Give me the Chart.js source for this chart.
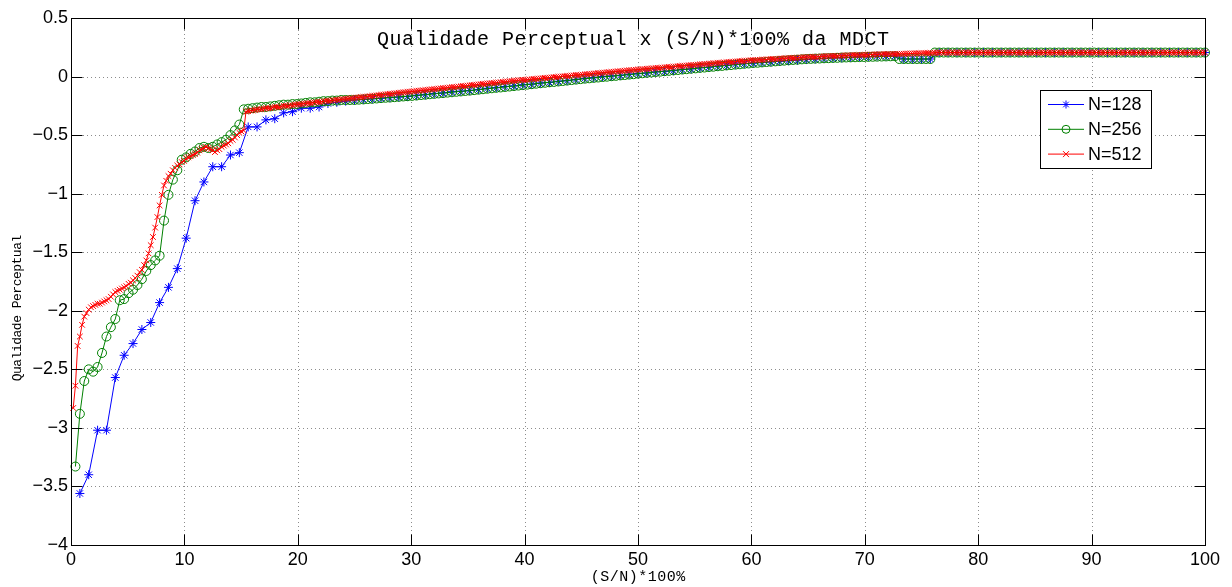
<!DOCTYPE html>
<html>
<head>
<meta charset="utf-8">
<script src="https://cdn.jsdelivr.net/npm/chart.js@4.4.1/dist/chart.umd.min.js"></script>
<style>
  body { margin: 0; background: #fff; }
  #wrap { width: 1232px; height: 587px; }
</style>
</head>
<body>
<div id="wrap"><canvas id="mdct" width="1232" height="587"></canvas></div>
<script>
// Qualidade perceptual vs (S/N)*100% - MDCT com N = 128, 256, 512
const titleText = 'Qualidade Perceptual x (S/N)*100% da MDCT';
const xLabel = '(S/N)*100%';
const yLabel = 'Qualidade Perceptual';
const seriesNames = ['N=128', 'N=256', 'N=512'];
const xTicks = [0, 10, 20, 30, 40, 50, 60, 70, 80, 90, 100];
const yTicks = [0.5, 0, -0.5, -1, -1.5, -2, -2.5, -3, -3.5, -4];

// N=128 : 128 pontos
const q128 = [
  -3.56,-3.40,-3.02,-3.02,-2.57,-2.38,-2.28,-2.16,-2.10,-1.93,
  -1.80,-1.64,-1.38,-1.06,-0.90,-0.77,-0.77,-0.67,-0.65,-0.43,
  -0.43,-0.37,-0.36,-0.31,-0.30,-0.27,-0.27,-0.26,-0.23,-0.22,
  -0.21,-0.20,-0.195,-0.19,-0.185,-0.18,-0.175,-0.17,-0.16,-0.155,
  -0.145,-0.14,-0.13,-0.125,-0.12,-0.11,-0.10,-0.095,-0.085,-0.08,
  -0.07,-0.065,-0.055,-0.05,-0.04,-0.035,-0.025,-0.015,-0.01,0.0,
  0.005,0.01,0.02,0.025,0.03,0.04,0.045,0.05,0.06,0.065,
  0.075,0.08,0.09,0.095,0.105,0.11,0.115,0.12,0.125,0.13,
  0.135,0.14,0.145,0.15,0.155,0.16,0.16,0.165,0.17,0.17,
  0.175,0.175,0.175,0.15,0.15,0.15,0.15,0.205,0.205,0.205,
  0.205,0.205,0.205,0.205,0.205,0.205,0.205,0.205,0.205,0.205,
  0.205,0.205,0.205,0.205,0.205,0.205,0.205,0.205,0.205,0.205,
  0.205,0.205,0.205,0.205,0.205,0.205,0.205,0.205
];

// N=256 : 256 pontos
const q256 = [
  -3.33,-2.88,-2.60,-2.50,-2.52,-2.48,-2.36,-2.22,-2.14,-2.07,
  -1.91,-1.90,-1.85,-1.82,-1.78,-1.73,-1.66,-1.61,-1.57,-1.53,
  -1.23,-1.01,-0.88,-0.80,-0.71,-0.69,-0.66,-0.64,-0.61,-0.60,
  -0.61,-0.60,-0.58,-0.56,-0.54,-0.50,-0.46,-0.41,-0.28,-0.275,
  -0.27,-0.265,-0.26,-0.26,-0.255,-0.25,-0.245,-0.24,-0.24,-0.235,
  -0.235,-0.23,-0.225,-0.22,-0.22,-0.215,-0.21,-0.21,-0.205,-0.205,
  -0.20,-0.20,-0.20,-0.20,-0.197,-0.195,-0.192,-0.19,-0.187,-0.184,
  -0.181,-0.179,-0.176,-0.173,-0.17,-0.168,-0.165,-0.162,-0.158,-0.155,
  -0.151,-0.148,-0.144,-0.141,-0.137,-0.134,-0.13,-0.127,-0.123,-0.12,
  -0.116,-0.112,-0.108,-0.104,-0.1,-0.096,-0.093,-0.089,-0.085,-0.081,
  -0.077,-0.073,-0.069,-0.065,-0.061,-0.057,-0.053,-0.049,-0.046,-0.042,
  -0.038,-0.034,-0.03,-0.026,-0.022,-0.018,-0.015,-0.011,-0.008,-0.004,
  -0.001,0.003,0.006,0.01,0.013,0.017,0.02,0.025,0.028,0.032,
  0.035,0.039,0.042,0.046,0.049,0.053,0.056,0.06,0.063,0.067,
  0.07,0.074,0.077,0.081,0.084,0.088,0.091,0.095,0.098,0.102,
  0.105,0.109,0.112,0.116,0.118,0.121,0.124,0.127,0.13,0.133,
  0.136,0.139,0.142,0.144,0.147,0.15,0.151,0.153,0.154,0.156,
  0.157,0.159,0.16,0.162,0.163,0.164,0.165,0.166,0.167,0.168,
  0.169,0.17,0.171,0.172,0.173,0.174,0.15,0.15,0.15,0.15,
  0.15,0.15,0.15,0.15,0.205,0.205,0.205,0.205,0.205,0.205,
  0.205,0.205,0.205,0.205,0.205,0.205,0.205,0.205,0.205,0.205,
  0.205,0.205,0.205,0.205,0.205,0.205,0.205,0.205,0.205,0.205,
  0.205,0.205,0.205,0.205,0.205,0.205,0.205,0.205,0.205,0.205,
  0.205,0.205,0.205,0.205,0.205,0.205,0.205,0.205,0.205,0.205,
  0.205,0.205,0.205,0.205,0.205,0.205,0.205,0.205,0.205,0.205,
  0.205,0.205,0.205,0.205,0.205,0.205
];

// N=512 : 512 pontos
const q512 = [
  -2.83,-2.64,-2.30,-2.22,-2.12,-2.05,-2.02,-1.99,-1.97,-1.96,
  -1.95,-1.94,-1.94,-1.93,-1.92,-1.91,-1.90,-1.88,-1.86,-1.84,
  -1.83,-1.82,-1.81,-1.80,-1.79,-1.77,-1.76,-1.74,-1.72,-1.70,
  -1.67,-1.65,-1.61,-1.57,-1.51,-1.44,-1.37,-1.29,-1.20,-1.10,
  -1.01,-0.93,-0.89,-0.85,-0.83,-0.80,-0.78,-0.76,-0.75,-0.73,
  -0.72,-0.70,-0.69,-0.68,-0.67,-0.66,-0.65,-0.63,-0.62,-0.61,
  -0.60,-0.61,-0.62,-0.63,-0.645,-0.63,-0.62,-0.60,-0.59,-0.58,
  -0.57,-0.55,-0.54,-0.52,-0.50,-0.48,-0.47,-0.46,-0.30,-0.295,
  -0.29,-0.29,-0.285,-0.28,-0.28,-0.28,-0.275,-0.27,-0.27,-0.27,
  -0.265,-0.26,-0.26,-0.26,-0.255,-0.25,-0.25,-0.25,-0.245,-0.245,
  -0.24,-0.238,-0.236,-0.234,-0.232,-0.23,-0.228,-0.226,-0.224,-0.221,
  -0.219,-0.217,-0.215,-0.212,-0.21,-0.208,-0.206,-0.204,-0.202,-0.199,
  -0.197,-0.195,-0.193,-0.191,-0.189,-0.187,-0.185,-0.183,-0.18,-0.178,
  -0.176,-0.174,-0.172,-0.17,-0.168,-0.165,-0.163,-0.161,-0.159,-0.156,
  -0.154,-0.152,-0.15,-0.148,-0.146,-0.144,-0.142,-0.14,-0.137,-0.135,
  -0.133,-0.131,-0.129,-0.127,-0.125,-0.123,-0.121,-0.119,-0.117,-0.115,
  -0.113,-0.111,-0.109,-0.107,-0.105,-0.103,-0.101,-0.099,-0.097,-0.095,
  -0.093,-0.091,-0.089,-0.087,-0.085,-0.083,-0.081,-0.079,-0.077,-0.075,
  -0.073,-0.071,-0.069,-0.067,-0.065,-0.063,-0.061,-0.059,-0.057,-0.056,
  -0.054,-0.052,-0.05,-0.048,-0.046,-0.044,-0.042,-0.04,-0.038,-0.036,
  -0.034,-0.033,-0.031,-0.029,-0.028,-0.026,-0.024,-0.023,-0.021,-0.019,
  -0.017,-0.016,-0.014,-0.012,-0.01,-0.009,-0.007,-0.005,-0.004,-0.002,
  0,0.002,0.003,0.005,0.007,0.009,0.01,0.012,0.013,0.015,
  0.017,0.019,0.02,0.022,0.024,0.026,0.027,0.029,0.031,0.032,
  0.034,0.036,0.038,0.039,0.041,0.043,0.045,0.046,0.048,0.05,
  0.052,0.053,0.055,0.057,0.058,0.06,0.061,0.063,0.064,0.066,
  0.068,0.069,0.071,0.072,0.074,0.075,0.077,0.079,0.08,0.082,
  0.083,0.085,0.086,0.088,0.09,0.091,0.093,0.094,0.096,0.097,
  0.099,0.1,0.102,0.104,0.105,0.107,0.108,0.11,0.111,0.113,
  0.114,0.116,0.118,0.119,0.121,0.122,0.124,0.125,0.127,0.128,
  0.13,0.131,0.133,0.134,0.136,0.137,0.139,0.14,0.141,0.142,
  0.143,0.144,0.145,0.146,0.147,0.148,0.149,0.15,0.151,0.153,
  0.154,0.155,0.156,0.157,0.158,0.159,0.16,0.161,0.162,0.163,
  0.164,0.165,0.166,0.167,0.168,0.168,0.169,0.17,0.171,0.172,
  0.173,0.174,0.175,0.175,0.176,0.177,0.178,0.178,0.179,0.18,
  0.181,0.181,0.182,0.183,0.184,0.184,0.185,0.186,0.186,0.187,
  0.188,0.188,0.189,0.189,0.19,0.19,0.191,0.191,0.192,0.192,
  0.193,0.193,0.194,0.194,0.195,0.195,0.196,0.196,0.197,0.197,
  0.198,0.198,0.199,0.199,0.2,0.2,0.201,0.201,0.202,0.203,
  0.205,0.205,0.205,0.205,0.205,0.205,0.205,0.205,0.205,0.205,
  0.205,0.205,0.205,0.205,0.205,0.205,0.205,0.205,0.205,0.205,
  0.205,0.205,0.205,0.205,0.205,0.205,0.205,0.205,0.205,0.205,
  0.205,0.205,0.205,0.205,0.205,0.205,0.205,0.205,0.205,0.205,
  0.205,0.205,0.205,0.205,0.205,0.205,0.205,0.205,0.205,0.205,
  0.205,0.205,0.205,0.205,0.205,0.205,0.205,0.205,0.205,0.205,
  0.205,0.205,0.205,0.205,0.205,0.205,0.205,0.205,0.205,0.205,
  0.205,0.205,0.205,0.205,0.205,0.205,0.205,0.205,0.205,0.205,
  0.205,0.205,0.205,0.205,0.205,0.205,0.205,0.205,0.205,0.205,
  0.205,0.205,0.205,0.205,0.205,0.205,0.205,0.205,0.205,0.205,
  0.205,0.205,0.205,0.205,0.205,0.205,0.205,0.205,0.205,0.205,
  0.205,0.205,0.205,0.205,0.205,0.205,0.205,0.205,0.205,0.205,
  0.205,0.205
];

const colors = ['#0000ff', '#008000', '#ff0000'];
const markers = ['star', 'circle', 'crossRot'];
const markerSize = [4.5, 4.5, 4];

// pontos com x = k*100/N
function toPoints(vals) {
  const step = 100 / vals.length;
  return vals.map((v, i) => ({ x: (i + 1) * step, y: v }));
}

function minus(v) {
  return v < 0 ? '\u2212' + Math.abs(v) : String(v);
}

// texto mono com avanço fixo (estilo Courier do MATLAB)
function spacedText(ctx, text, cx, cy, adv) {
  const w = adv * text.length;
  let x = cx - w / 2 + adv / 2;
  for (const ch of text) {
    ctx.fillText(ch, x, cy);
    x += adv;
  }
}

function drawMarker(ctx, style, x, y, r) {
  ctx.beginPath();
  if (style === 'circle') {
    ctx.arc(x, y, r, 0, Math.PI * 2);
  } else if (style === 'crossRot') {
    const d = r * 0.75;
    ctx.moveTo(x - d, y - d); ctx.lineTo(x + d, y + d);
    ctx.moveTo(x - d, y + d); ctx.lineTo(x + d, y - d);
  } else {
    const d = r * 0.7;
    ctx.moveTo(x - r, y); ctx.lineTo(x + r, y);
    ctx.moveTo(x, y - r); ctx.lineTo(x, y + r);
    ctx.moveTo(x - d, y - d); ctx.lineTo(x + d, y + d);
    ctx.moveTo(x - d, y + d); ctx.lineTo(x + d, y - d);
  }
  ctx.stroke();
}

const matlabAxes = {
  id: 'matlabAxes',
  beforeDatasetsDraw(chart) {
    const { ctx, chartArea: a, scales } = chart;
    ctx.save();
    ctx.strokeStyle = 'rgba(0,0,0,0.45)';
    ctx.lineWidth = 1;
    ctx.setLineDash([1, 3]);
    xTicks.forEach(t => {
      const px = Math.round(scales.x.getPixelForValue(t)) + 0.5;
      ctx.beginPath(); ctx.moveTo(px, a.top); ctx.lineTo(px, a.bottom); ctx.stroke();
    });
    yTicks.forEach(t => {
      const py = Math.round(scales.y.getPixelForValue(t)) + 0.5;
      ctx.beginPath(); ctx.moveTo(a.left, py); ctx.lineTo(a.right, py); ctx.stroke();
    });
    ctx.restore();
  },
  afterDatasetsDraw(chart) {
    const { ctx, chartArea: a, scales } = chart;
    ctx.save();
    ctx.strokeStyle = '#000';
    ctx.lineWidth = 1;
    const L = Math.round(a.left) + 0.5, R = Math.round(a.right) + 0.5;
    const T = Math.round(a.top) + 0.5, B = Math.round(a.bottom) + 0.5;
    ctx.strokeRect(L, T, R - L, B - T);
    const tl = 11;
    ctx.beginPath();
    xTicks.forEach(t => {
      const px = Math.round(scales.x.getPixelForValue(t)) + 0.5;
      ctx.moveTo(px, B); ctx.lineTo(px, B - tl);
      ctx.moveTo(px, T); ctx.lineTo(px, T + tl);
    });
    yTicks.forEach(t => {
      const py = Math.round(scales.y.getPixelForValue(t)) + 0.5;
      ctx.moveTo(L, py); ctx.lineTo(L + tl, py);
      ctx.moveTo(R, py); ctx.lineTo(R - tl, py);
    });
    ctx.stroke();

    // titulo e rotulos
    ctx.fillStyle = '#000';
    ctx.textAlign = 'center';
    ctx.textBaseline = 'middle';
    ctx.font = '20px "Liberation Mono"';
    spacedText(ctx, titleText, (a.left + a.right) / 2 - 5, 40, 12.5);
    ctx.font = '15px "Liberation Mono"';
    spacedText(ctx, xLabel, (a.left + a.right) / 2 + 0, 577, 9.5);
    ctx.save();
    ctx.translate(18, 308);
    ctx.rotate(-Math.PI / 2);
    ctx.font = '13px "Liberation Mono"';
    spacedText(ctx, yLabel, 0, 0, 7.3);
    ctx.restore();

    // legenda
    const lx = 1040.5, ly = 90.5, lw = 111, lh = 78;
    ctx.fillStyle = '#fff';
    ctx.fillRect(lx, ly, lw, lh);
    ctx.strokeStyle = '#000';
    ctx.strokeRect(lx, ly, lw, lh);
    ctx.font = '18px "Liberation Sans"';
    ctx.textAlign = 'left';
    seriesNames.forEach((name, i) => {
      const y = 104.5 + i * 24.8;
      ctx.strokeStyle = colors[i];
      ctx.beginPath(); ctx.moveTo(1048, y); ctx.lineTo(1084, y); ctx.stroke();
      drawMarker(ctx, markers[i], 1066, y, i === 1 ? 4 : 4);
      ctx.fillStyle = '#000';
      ctx.fillText(name, 1088, y + 1);
    });
    ctx.restore();
  }
};

const ctx = document.getElementById('mdct').getContext('2d');
new Chart(ctx, {
  type: 'line',
  data: {
    datasets: [
      { label: seriesNames[0], data: toPoints(q128), order: 3 },
      { label: seriesNames[1], data: toPoints(q256), order: 2 },
      { label: seriesNames[2], data: toPoints(q512), order: 1 }
    ].map((d, i) => Object.assign(d, {
      borderColor: colors[i],
      borderWidth: 1,
      pointStyle: markers[i],
      pointRadius: markerSize[i],
      pointBorderColor: colors[i],
      pointBackgroundColor: 'rgba(0,0,0,0)',
      pointBorderWidth: 1,
      tension: 0,
      clip: false
    }))
  },
  options: {
    responsive: false,
    animation: false,
    devicePixelRatio: 1,
    events: [],
    layout: { padding: { left: 0, top: 18, right: 27, bottom: 0 } },
    plugins: { legend: { display: false }, tooltip: { enabled: false }, title: { display: false } },
    scales: {
      x: {
        type: 'linear', min: 0, max: 100,
        afterFit: s => { s.height = 42; },
        afterBuildTicks: s => { s.ticks = xTicks.map(v => ({ value: v })); },
        grid: { display: false, drawTicks: false },
        border: { display: false },
        ticks: { color: '#000', padding: 4, maxRotation: 0, autoSkip: false, font: { family: 'Liberation Sans', size: 18 } }
      },
      y: {
        type: 'linear', min: -4, max: 0.5,
        afterFit: s => { s.width = 71; },
        afterBuildTicks: s => { s.ticks = yTicks.map(v => ({ value: v })); },
        grid: { display: false, drawTicks: false },
        border: { display: false },
        ticks: { color: '#000', padding: 3, autoSkip: false, font: { family: 'Liberation Sans', size: 18 }, callback: v => minus(v) }
      }
    }
  },
  plugins: [matlabAxes]
});
</script>
</body>
</html>
